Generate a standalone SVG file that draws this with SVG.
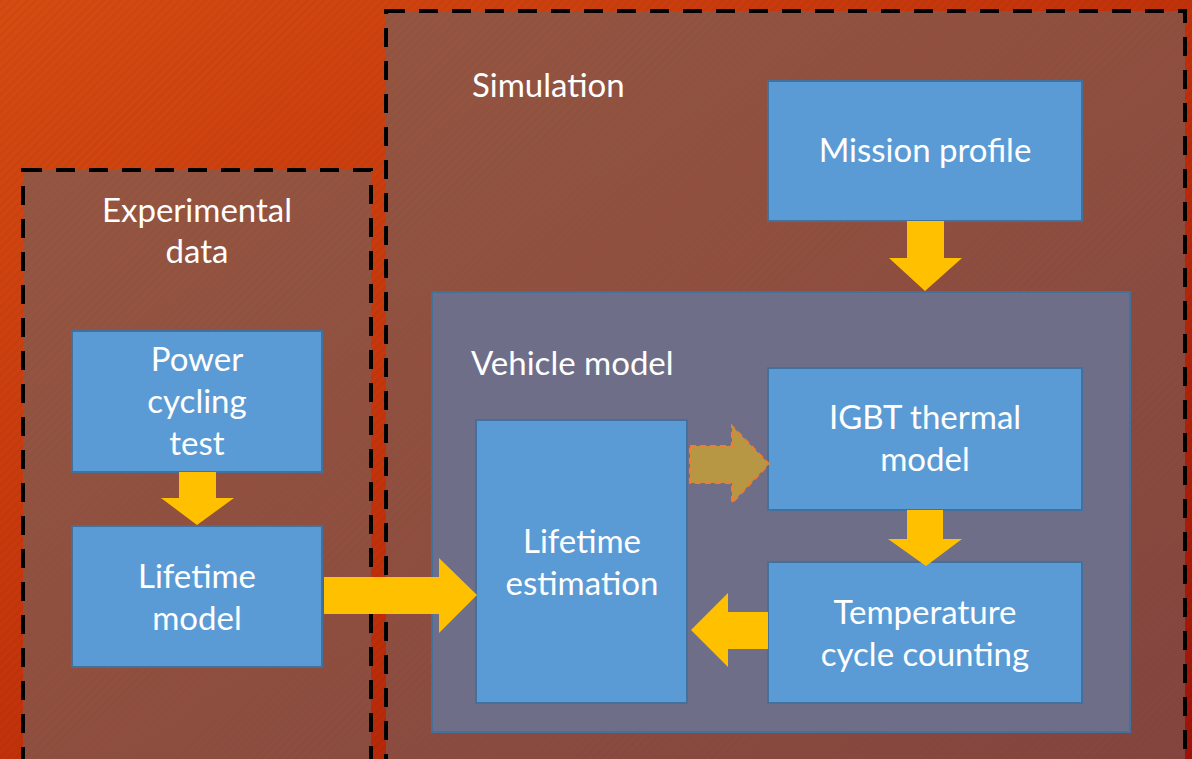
<svg xmlns="http://www.w3.org/2000/svg" width="1192" height="759" viewBox="0 0 1192 759">
<defs>
<linearGradient id="bg" x1="0" y1="0" x2="1" y2="1">
<stop offset="0" stop-color="#D64C12"/>
<stop offset="0.5" stop-color="#C2320A"/>
<stop offset="1" stop-color="#9E1408"/>
</linearGradient>
<pattern id="stripes" width="6" height="6" patternUnits="userSpaceOnUse" patternTransform="rotate(45)">
<rect width="3" height="6" fill="#000" opacity="0.03"/>
</pattern>
<style>
.dash{fill:#74605C;fill-opacity:0.65;stroke:#000;stroke-width:4;stroke-dasharray:19 14}
.box{fill:#5B9BD5;stroke:#41719C;stroke-width:2}
.arr{fill:#FFC000}
.t{font-family:Lato,"Open Sans","Liberation Sans",sans-serif;font-size:33px;fill:#fff;text-anchor:middle}
.tl{font-family:Lato,"Open Sans","Liberation Sans",sans-serif;font-size:33px;fill:#fff}
</style>
</defs>
<rect width="1192" height="759" fill="url(#bg)"/>
<rect width="1192" height="759" fill="url(#stripes)"/>

<g id="simulation">
<rect class="dash" x="386" y="11" width="799" height="770"/>
<text class="tl" x="472" y="97">Simulation</text>
</g>
<g id="experimental">
<rect class="dash" x="23" y="170" width="348" height="610"/>
<text class="t" x="197" y="222">Experimental</text>
<text class="t" x="197" y="263">data</text>
</g>
<g id="vehicle-model">
<rect x="432" y="292" width="698" height="440" fill="#6F6E88" stroke="#41719C" stroke-width="2"/>
<text class="tl" x="471" y="375">Vehicle model</text>
</g>
<g id="mission-profile">
<rect class="box" x="768" y="81" width="314" height="140"/>
<text class="t" x="925" y="162">Mission profile</text>
</g>
<g id="igbt">
<rect class="box" x="768" y="368" width="314" height="142"/>
<text class="t" x="925" y="429">IGBT thermal</text>
<text class="t" x="925" y="471">model</text>
</g>
<g id="temperature">
<rect class="box" x="768" y="562" width="314" height="141"/>
<text class="t" x="925" y="624">Temperature</text>
<text class="t" x="925" y="666">cycle counting</text>
</g>
<g id="lifetime-estimation">
<rect class="box" x="476" y="420" width="211" height="283"/>
<text class="t" x="582" y="553">Lifetime</text>
<text class="t" x="582" y="595">estimation</text>
</g>
<g id="power-cycling">
<rect class="box" x="72" y="331" width="250" height="141"/>
<text class="t" x="197" y="371">Power</text>
<text class="t" x="197" y="413">cycling</text>
<text class="t" x="197" y="455">test</text>
</g>
<g id="lifetime-model">
<rect class="box" x="72" y="526" width="250" height="141"/>
<text class="t" x="197" y="588">Lifetime</text>
<text class="t" x="197" y="630">model</text>
</g>

<g id="connectors">
<polygon class="arr" points="907,221 944,221 944,258 962,258 925,291 889,258 907,258"/>
<polygon class="arr" points="179,472 216,472 216,498 234,498 197,525 161,498 179,498"/>
<polygon class="arr" points="907,510 943,510 943,539 962,539 926,566 888,539 907,539"/>
<polygon class="arr" points="768,612 768,649 728,649 728,667 691,630 728,593 728,612"/>
<polygon class="arr" points="324,577 439,577 439,558 477,595 439,633 439,614 324,614"/>
<polygon points="690,446 732,446 732,426 769,464 732,503 732,483 690,483" fill="#FFC000" fill-opacity="0.5" stroke="#ED7D31" stroke-width="2" stroke-dasharray="6 4"/>
</g>
</svg>
